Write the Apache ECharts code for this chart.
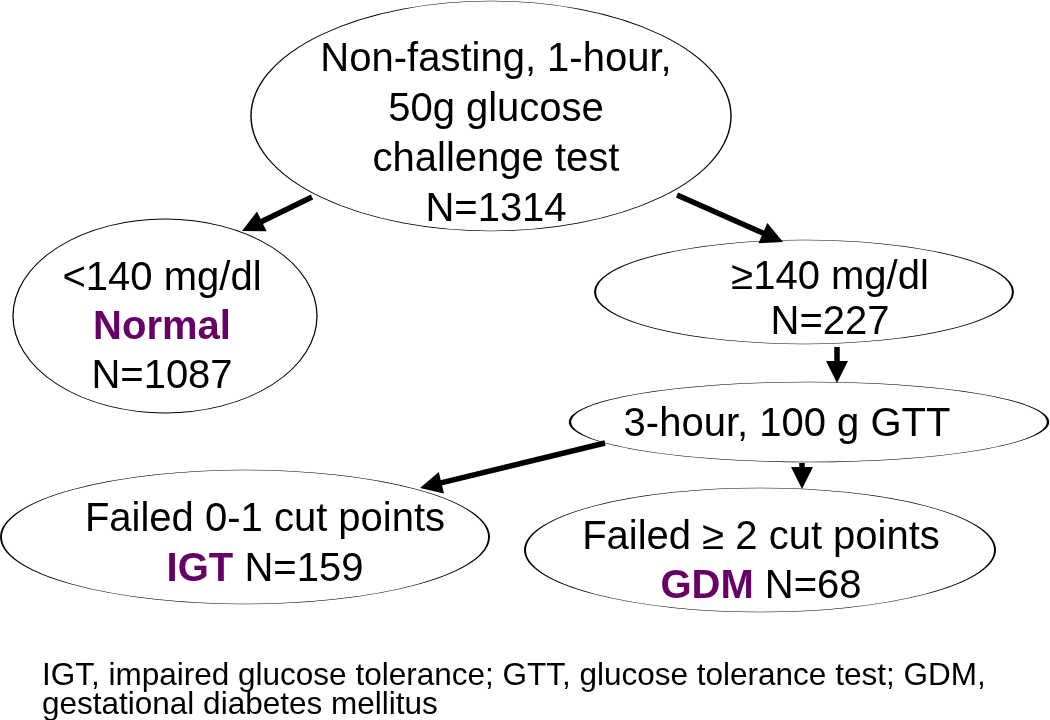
<!DOCTYPE html>
<html>
<head>
<meta charset="utf-8">
<script src="https://cdn.jsdelivr.net/npm/echarts@6/dist/echarts.min.js"></script>
<style>
  html, body { margin: 0; padding: 0; background: #fff; }
  #chart { width: 1050px; height: 720px; }
</style>
</head>
<body>
<div id="chart"></div>
<script>
// flowchart content
const stepNames = [
  "Non-fasting, 1-hour,\n50g glucose\nchallenge test",
  "<140 mg/dl",
  "≥140 mg/dl",
  "3-hour, 100 g GTT",
  "Failed 0-1 cut points",
  "Failed ≥ 2 cut points",
];
const stepGroups = ["", "Normal", "", "", "IGT", "GDM"];
const stepCounts = [1314, 1087, 227, null, 159, 68];
const flowLinks = [[0, 1], [0, 2], [2, 3], [3, 4], [3, 5]];
const footnoteLines = [
  "IGT, impaired glucose tolerance; GTT, glucose tolerance test; GDM,",
  "gestational diabetes mellitus",
];

// layout: ellipse centre/radii, text centre, line height, group on own line
const nodeLayout = [
  { cx: 491, cy: 116, rx: 240, ry: 115, tx: 496, ty: 135, lh: 50 },
  { cx: 165, cy: 316, rx: 152, ry: 97, tx: 162, ty: 328, lh: 49, ownLine: true },
  { cx: 804, cy: 292, rx: 209, ry: 52, tx: 830, ty: 300, lh: 45 },
  { cx: 809, cy: 422, rx: 239, ry: 40, tx: 787, ty: 425, lh: 46 },
  { cx: 245, cy: 537, rx: 244, ry: 67, tx: 265, ty: 545, lh: 50 },
  { cx: 760, cy: 550, rx: 235, ry: 62, tx: 761, ty: 562, lh: 49 },
];
// arrow tail and tip for each link
const arrowLayout = [
  [[312, 197], [242, 231]],
  [[677, 195], [783, 242]],
  [[837, 347], [837, 383]],
  [[605, 443], [420, 488]],
  [[802, 463], [802, 489]],
];

const FONT = "'Liberation Sans', Arial, Helvetica, sans-serif";
const PURPLE = "#660066";
const HEAD = 22;
const ELLIPSE = "path://M0,50 A50,50 0 1,1 100,50 A50,50 0 1,1 0,50 Z";

function labelText(i) {
  const lines = stepNames[i].split("\n").map((s) => `{n|${s}}`);
  const n = stepCounts[i] != null ? `{n|N=${stepCounts[i]}}` : "";
  const g = stepGroups[i];
  if (g && nodeLayout[i].ownLine) {
    lines.push(`{b|${g}}`);
    if (n) lines.push(n);
  } else if (g) {
    lines.push(`{b|${g}}{n| N=${stepCounts[i]}}`);
  } else if (n) {
    lines.push(n);
  }
  return lines.join("\n");
}

const nodeData = stepNames.map((name, i) => {
  const L = nodeLayout[i];
  return {
    name: name,
    value: [L.cx, L.cy],
    symbolSize: [L.rx * 2, L.ry * 2],
    label: {
      show: true,
      position: "inside",
      offset: [L.tx - L.cx, L.ty - L.cy],
      formatter: labelText(i),
      lineHeight: L.lh,
      rich: {
        n: { fontSize: 40, fontFamily: FONT, color: "#000", lineHeight: L.lh },
        b: { fontSize: 40, fontFamily: FONT, color: PURPLE, fontWeight: "bold", lineHeight: L.lh },
      },
    },
  };
});

const linkData = flowLinks.map((lk, k) => {
  const [a, b] = arrowLayout[k];
  const dx = b[0] - a[0], dy = b[1] - a[1];
  const len = Math.sqrt(dx * dx + dy * dy);
  const end = [b[0] - (dx / len) * HEAD / 2, b[1] - (dy / len) * HEAD / 2];
  return { coords: [a, end] };
});

const chart = echarts.init(document.getElementById("chart"), null, { renderer: "canvas" });
chart.setOption({
  animation: false,
  backgroundColor: "#fff",
  title: {
    text: footnoteLines.join("\n"),
    left: 42,
    top: 662,
    padding: 0,
    textStyle: { fontFamily: FONT, fontSize: 31.5, fontWeight: "normal", color: "#000", lineHeight: 29 },
  },
  grid: { left: 0, right: 0, top: 0, bottom: 0 },
  xAxis: { type: "value", min: 0, max: 1050, show: false },
  yAxis: { type: "value", min: 0, max: 720, inverse: true, show: false },
  series: [
    {
      type: "scatter",
      silent: true,
      symbol: ELLIPSE,
      itemStyle: { color: "#fff", borderColor: "#000", borderWidth: 1, opacity: 1 },
      data: nodeData,
      z: 2,
    },
    {
      type: "lines",
      coordinateSystem: "cartesian2d",
      silent: true,
      symbol: ["none", "triangle"],
      symbolSize: HEAD,
      lineStyle: { color: "#000", width: 5.5, opacity: 1 },
      itemStyle: { color: "#000" },
      data: linkData,
      z: 3,
    },
  ],
});
</script>
</body>
</html>
